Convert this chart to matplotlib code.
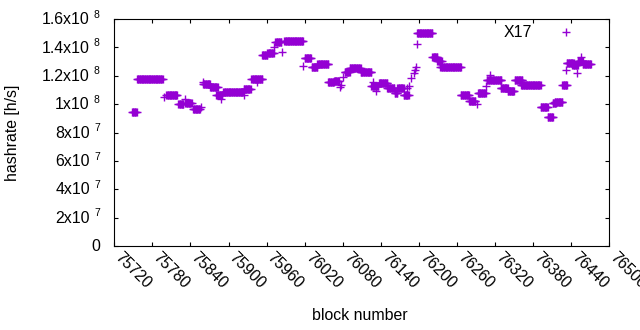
import numpy as np
import matplotlib
matplotlib.use("Agg")
import matplotlib.pyplot as plt
from matplotlib.transforms import ScaledTranslation

plt.rcParams['font.family'] = ['Liberation Sans', 'DejaVu Sans']

# runs of blocks with the same hashrate (first block, last block, h/s)
seg_start = [75748, 75756, 75802, 75821, 75832, 75844, 75860, 75871, 75881, 75892,
             75907, 75924, 75936, 75953, 75961, 75974, 75988, 76020, 76031, 76040,
             76057, 76066, 76083, 76091, 76108, 76125, 76137, 76150, 76162, 76166,
             76176, 76197, 76221, 76229, 76234, 76266, 76279, 76293, 76308, 76329,
             76340, 76351, 76361, 76392, 76403, 76411, 76414, 76426, 76433, 76442,
             76450, 76458]
seg_end = [75755, 75796, 75819, 75829, 75842, 75855, 75871, 75882, 75890, 75906,
           75923, 75935, 75953, 75961, 75971, 75983, 76017, 76030, 76040, 76057,
           76066, 76074, 76091, 76108, 76125, 76136, 76150, 76161, 76166, 76176,
           76184, 76221, 76229, 76236, 76266, 76279, 76289, 76305, 76330, 76340,
           76350, 76363, 76392, 76403, 76411, 76416, 76426, 76433, 76444, 76450,
           76458, 76471]
seg_hash = [9.42e7, 1.175e8, 1.062e8, 9.99e7, 1.008e8, 9.63e7, 1.14e8, 1.118e8, 1.066e8, 1.088e8,
            1.085e8, 1.109e8, 1.179e8, 1.344e8, 1.358e8, 1.436e8, 1.443e8, 1.323e8, 1.264e8, 1.281e8,
            1.156e8, 1.165e8, 1.228e8, 1.252e8, 1.224e8, 1.131e8, 1.147e8, 1.111e8, 1.078e8, 1.111e8,
            1.064e8, 1.499e8, 1.334e8, 1.302e8, 1.26e8, 1.064e8, 1.022e8, 1.076e8, 1.172e8, 1.116e8,
            1.092e8, 1.17e8, 1.133e8, 9.83e7, 9.11e7, 1.008e8, 1.017e8, 1.133e8, 1.292e8, 1.276e8,
            1.302e8, 1.285e8]

# single blocks off the runs
pt_block = [75798, 75831, 75857, 75859, 75884, 75888, 75924, 75945, 75971, 75984,
            76018, 76076, 76077, 76081, 76128, 76132, 76182, 76184, 76188, 76192,
            76194, 76195, 76197, 76291, 76305, 76308, 76312, 76432, 76449, 76456]
pt_hash = [1.05e8, 1.033e8, 9.82e7, 1.159e8, 1.118e8, 1.036e8, 1.062e8, 1.154e8, 1.405e8, 1.369e8,
           1.271e8, 1.119e8, 1.135e8, 1.189e8, 1.154e8, 1.096e8, 1.114e8, 1.131e8, 1.182e8, 1.219e8,
           1.24e8, 1.264e8, 1.422e8, 9.99e7, 1.125e8, 1.17e8, 1.205e8, 1.24e8, 1.217e8, 1.33e8]

xticks = list(range(75720, 76501, 60))
yticks = [0, 2e7, 4e7, 6e7, 8e7, 1e8, 1.2e8, 1.4e8, 1.6e8]
ytick_mant = ['0', '2x10', '4x10', '6x10', '8x10', '1x10', '1.2x10', '1.4x10', '1.6x10']
ytick_exp = ['', '7', '7', '7', '7', '8', '8', '8', '8']

blocks = []
rates = []
for s, e, h in zip(seg_start, seg_end, seg_hash):
    for b in range(s, e + 1):
        blocks.append(b)
        rates.append(h)
blocks += pt_block
rates += pt_hash

FS = 11.4

fig = plt.figure(figsize=(6.4, 3.3), dpi=100)
ax = fig.add_axes([114.3 / 640, 1 - 246 / 330, 495 / 640, 227 / 330])

ax.plot(blocks, rates, linestyle='none', marker='+', markersize=6,
        markeredgewidth=1.0, color='#9400d3', label='X17')

ax.set_xlim(75720, 76500)
ax.set_ylim(0, 1.6e8)
ax.set_xticks(xticks)
ax.set_xticklabels([str(t) for t in xticks], rotation=-45, ha='left', va='baseline',
                   rotation_mode='anchor', fontsize=FS)
shift = ScaledTranslation(1.5 / 100, 0, fig.dpi_scale_trans)
for lab in ax.get_xticklabels():
    lab.set_transform(lab.get_transform() + shift)
ax.set_yticks(yticks)
ax.set_yticklabels([''] * len(yticks))
ax.tick_params(direction='in', top=True, right=True, length=3, width=0.8)
ax.tick_params(axis='x', pad=8.6)
for sp in ax.spines.values():
    sp.set_linewidth(0.8)

# gnuplot style "1.2x10 8" labels: mantissa plus a small raised exponent
ytr = ax.get_yaxis_transform()
for y, m, e in zip(yticks, ytick_mant, ytick_exp):
    if e:
        ax.text(0, y, m, fontsize=FS, ha='right', va='baseline',
                transform=ytr + ScaledTranslation(-24.5 / 100, -5.2 / 100, fig.dpi_scale_trans))
        ax.text(0, y, e, fontsize=7.5, ha='left', va='baseline',
                transform=ytr + ScaledTranslation(-20.3 / 100, 1.3 / 100, fig.dpi_scale_trans))
    else:
        ax.text(0, y, m, fontsize=FS, ha='right', va='baseline',
                transform=ytr + ScaledTranslation(-14.5 / 100, -5.2 / 100, fig.dpi_scale_trans))

ax.set_xlabel('block number', fontsize=FS)
ax.set_ylabel('hashrate [h/s]', fontsize=FS)
ax.xaxis.set_label_coords(0.495, -0.275)
ax.yaxis.set_label_coords(-0.19, 0.5)

ax.legend(loc='upper right', bbox_to_anchor=(0.958, 1.0), borderaxespad=0,
          frameon=False, markerfirst=False, handlelength=2, handletextpad=1.15,
          fontsize=FS)

fig.savefig('out.png', dpi=100)
